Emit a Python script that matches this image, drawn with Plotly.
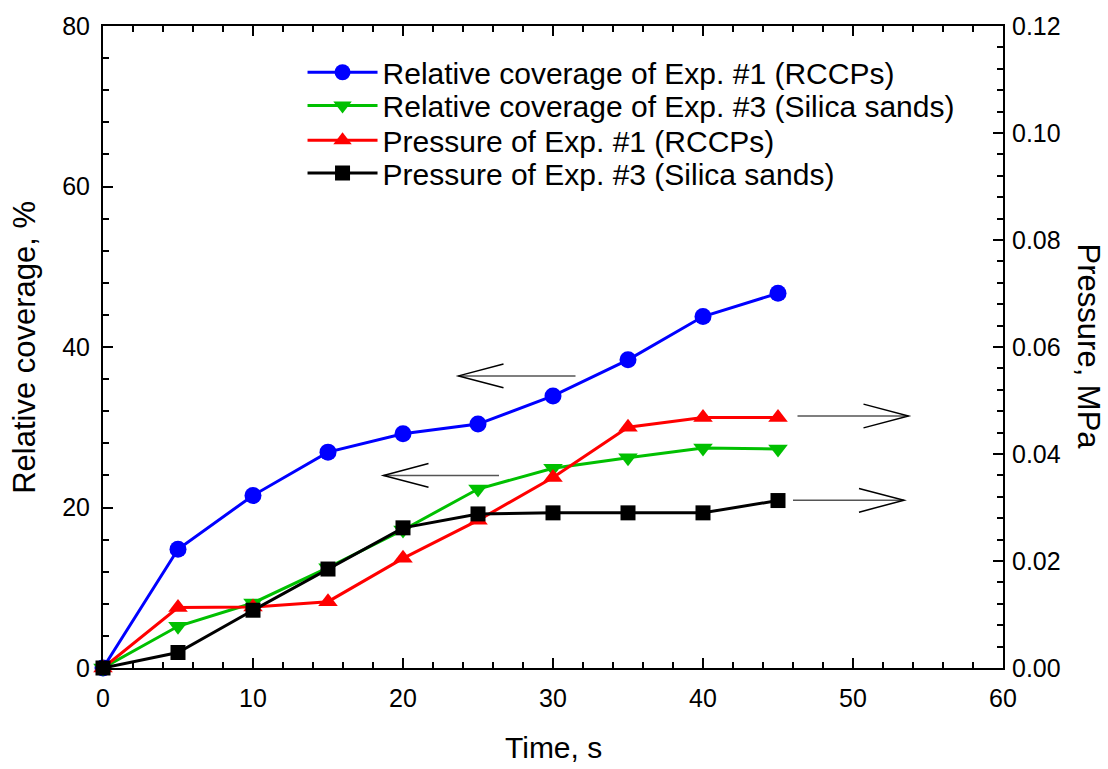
import plotly.graph_objects as go

# ---- data ----
time_s = [0, 5, 10, 15, 20, 25, 30, 35, 40, 45]
cov_exp1 = [0, 14.8, 21.5, 26.9, 29.2, 30.4, 33.9, 38.4, 43.8, 46.7]
cov_exp3 = [0, 5.2, 8.1, 12.5, 17.2, 22.3, 24.9, 26.2, 27.4, 27.3]
p_exp1 = [0, 0.0113, 0.0114, 0.0124, 0.0205, 0.0276, 0.0356, 0.0450, 0.0468, 0.0468]
p_exp3 = [0, 0.0029, 0.0108, 0.0185, 0.0262, 0.0288, 0.0290, 0.0290, 0.0290, 0.0313]

names = [
    "Relative coverage of Exp. #1 (RCCPs)",
    "Relative coverage of Exp. #3 (Silica sands)",
    "Pressure of Exp. #1 (RCCPs)",
    "Pressure of Exp. #3 (Silica sands)",
]

# arrows (left-axis data units): y, tip x, tail x
arrow_y = [36.4, 24.0, 31.4, 20.9]
arrow_tip = [23.7, 18.7, 53.7, 53.4]
arrow_tail = [31.5, 26.4, 46.3, 46.0]

FONT = "Liberation Sans, Arial, sans-serif"

fig = go.Figure()
fig.add_trace(go.Scatter(x=time_s, y=cov_exp1, name=names[0], mode="lines+markers",
                         legend="legend",
                         line=dict(color="#0000FF", width=3),
                         marker=dict(symbol="circle", size=17, color="#0000FF"),
                         cliponaxis=False))
fig.add_trace(go.Scatter(x=time_s, y=cov_exp3, name=names[1], mode="lines+markers",
                         legend="legend2",
                         line=dict(color="#00C000", width=3),
                         marker=dict(symbol="triangle-down", size=17, color="#00C000"),
                         cliponaxis=False))
fig.add_trace(go.Scatter(x=time_s, y=p_exp1, name=names[2], mode="lines+markers",
                         yaxis="y2", legend="legend3",
                         line=dict(color="#FF0000", width=3),
                         marker=dict(symbol="triangle-up", size=17, color="#FF0000"),
                         cliponaxis=False))
fig.add_trace(go.Scatter(x=time_s, y=p_exp3, name=names[3], mode="lines+markers",
                         yaxis="y2", legend="legend4",
                         line=dict(color="#000000", width=3),
                         marker=dict(symbol="square", size=15, color="#000000"),
                         cliponaxis=False))

# arrows as shapes
head_dx = 3.0
head_dy = 1.48
for yv, tip, tail in zip(arrow_y, arrow_tip, arrow_tail):
    sgn = 1 if tail > tip else -1
    fig.add_shape(type="line", xref="x", yref="y", x0=tail, x1=tip, y0=yv, y1=yv,
                  line=dict(color="#555555", width=1.5))
    bx = tip + sgn * head_dx
    path = f"M {bx} {yv + head_dy} L {tip} {yv} L {bx} {yv - head_dy}"
    fig.add_shape(type="path", xref="x", yref="y", path=path,
                  line=dict(color="#000000", width=1.5))

legend_rows = [0.928, 0.876, 0.822, 0.771]
leg_common = dict(x=0.2217, xanchor="left", yanchor="middle",
                  font=dict(family=FONT, size=30, color="black"),
                  bgcolor="rgba(0,0,0,0)", itemwidth=70)

tickfont = dict(family=FONT, size=25, color="black")
fig.update_layout(
    width=1108, height=769,
    margin=dict(l=103, r=105, t=17, b=101),
    paper_bgcolor="white", plot_bgcolor="white",
    font=dict(family=FONT, color="black"),
    showlegend=True,
    legend=dict(y=legend_rows[0], **leg_common),
    legend2=dict(y=legend_rows[1], **leg_common),
    legend3=dict(y=legend_rows[2], **leg_common),
    legend4=dict(y=legend_rows[3], **leg_common),
    xaxis=dict(range=[0, 60], dtick=10, tick0=0, showgrid=False, zeroline=False,
               showline=True, linecolor="black", linewidth=2, mirror="ticks",
               ticks="inside", ticklen=10, tickwidth=1.5, tickcolor="black",
               ticklabelstandoff=7,
               minor=dict(dtick=2, ticks="inside", ticklen=6, tickwidth=1.5, tickcolor="black"),
               tickfont=tickfont),
    yaxis=dict(range=[0, 80], dtick=20, tick0=0, showgrid=False, zeroline=False,
               showline=True, linecolor="black", linewidth=2,
               ticks="inside", ticklen=10, tickwidth=1.5, tickcolor="black",
               ticklabelstandoff=6,
               minor=dict(dtick=4, ticks="inside", ticklen=6, tickwidth=1.5, tickcolor="black"),
               tickfont=tickfont),
    yaxis2=dict(range=[0, 0.12], dtick=0.02, tick0=0, overlaying="y", side="right",
                showgrid=False, zeroline=False, tickformat=".2f",
                showline=True, linecolor="black", linewidth=2,
                ticks="inside", ticklen=10, tickwidth=1.5, tickcolor="black",
                ticklabelstandoff=2,
                minor=dict(dtick=0.004, ticks="inside", ticklen=6, tickwidth=1.5, tickcolor="black"),
                tickfont=tickfont),
)

title_font = dict(family=FONT, size=31, color="black")
fig.add_annotation(text="Time, s", xref="paper", yref="paper", x=0.5, y=-0.124,
                   showarrow=False, font=dict(family=FONT, size=30, color="black"),
                   xanchor="center", yanchor="middle")
fig.add_annotation(text="Relative coverage, %", xref="paper", yref="paper", x=-0.088, y=0.50,
                   showarrow=False, font=title_font, textangle=-90,
                   xanchor="center", yanchor="middle")
fig.add_annotation(text="Pressure, MPa", xref="paper", yref="paper", x=1.096, y=0.50,
                   showarrow=False, font=title_font, textangle=90,
                   xanchor="center", yanchor="middle")

fig.write_html("out.html")
